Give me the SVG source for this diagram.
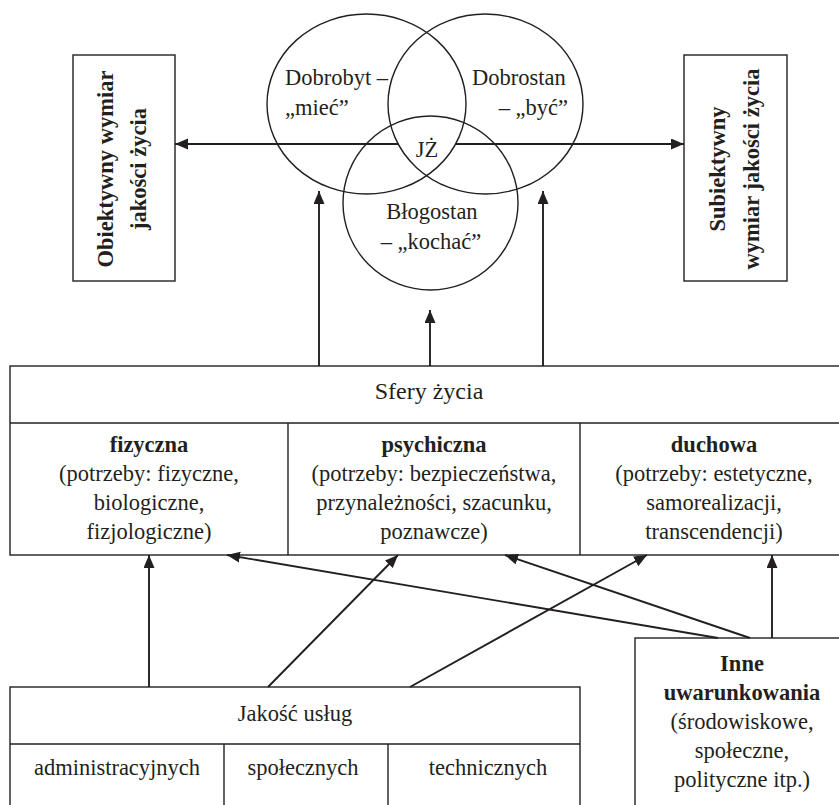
<svg xmlns="http://www.w3.org/2000/svg" width="839" height="805" viewBox="0 0 839 805" font-family="'Liberation Serif', 'DejaVu Serif', serif">
<style>
  text { font-family: 'Liberation Serif', 'Times New Roman', 'DejaVu Serif', serif; font-size: 22.5px; fill: #231f20; }
  .b { font-weight: bold; }
  .m { text-anchor: middle; }
  .e { text-anchor: end; }
  .box { fill: #fff; stroke: #231f20; stroke-width: 1.4; }
  .ln { fill: none; stroke: #231f20; stroke-width: 1.4; }
  .ell { fill: none; stroke: #231f20; stroke-width: 1.4; }
  .arr { fill: none; stroke: #231f20; stroke-width: 1.9; marker-end: url(#ah); }
  .seg { fill: none; stroke: #231f20; stroke-width: 1.9; marker-end: url(#ah); }
</style>
<defs>
  <marker id="ah" markerUnits="userSpaceOnUse" markerWidth="14" markerHeight="12" refX="13" refY="5.5" orient="auto">
    <path d="M0,0 L13,5.5 L0,11 z" fill="#231f20"/>
  </marker>
</defs>
<rect width="839" height="805" fill="#fff"/>

<g id="venn">
  <ellipse class="ell" cx="366.5" cy="104" rx="99.5" ry="90"/>
  <ellipse class="ell" cx="485.5" cy="104" rx="97.5" ry="90"/>
  <ellipse class="ell" cx="430.5" cy="203" rx="87.5" ry="87"/>
  <text x="285" y="85">Dobrobyt –</text>
  <text x="285" y="115">„mieć”</text>
  <text x="472" y="85">Dobrostan</text>
  <text class="e" x="568" y="115">– „być”</text>
  <text class="m" x="427" y="157">JŻ</text>
  <text class="m" x="432" y="219">Błogostan</text>
  <text class="m" x="431" y="249">– „kochać”</text>
</g>

<g id="obiektywny">
  <rect class="box" x="73" y="55" width="102" height="226"/>
  <g transform="translate(124,169) rotate(-90)">
    <text class="b m" x="0" y="-11">Obiektywny wymiar</text>
    <text class="b m" x="0" y="22">jakości życia</text>
  </g>
</g>

<g id="subiektywny">
  <rect class="box" x="684" y="55" width="103" height="226"/>
  <g transform="translate(735.5,169) rotate(-90)">
    <text class="b m" x="0" y="-11">Subiektywny</text>
    <text class="b m" x="0" y="23">wymiar jakości życia</text>
  </g>
</g>

<g id="sfery">
  <rect class="box" x="10" y="366" width="838" height="189"/>
  <line class="ln" x1="10" y1="423" x2="848" y2="423"/>
  <line class="ln" x1="288" y1="423" x2="288" y2="555"/>
  <line class="ln" x1="580" y1="423" x2="580" y2="555"/>
  <text class="m" x="429" y="399" style="font-size:24px">Sfery życia</text>
  <text class="b m" x="149" y="452">fizyczna</text>
  <text class="m" x="149" y="481">(potrzeby: fizyczne,</text>
  <text class="m" x="149" y="510">biologiczne,</text>
  <text class="m" x="149" y="539">fizjologiczne)</text>
  <text class="b m" x="434" y="452">psychiczna</text>
  <text class="m" x="434" y="481">(potrzeby: bezpieczeństwa,</text>
  <text class="m" x="434" y="510">przynależności, szacunku,</text>
  <text class="m" x="434" y="539">poznawcze)</text>
  <text class="b m" x="714" y="452">duchowa</text>
  <text class="m" x="714" y="481">(potrzeby: estetyczne,</text>
  <text class="m" x="714" y="510">samorealizacji,</text>
  <text class="m" x="714" y="539">transcendencji)</text>
</g>

<g id="jakosc">
  <rect class="box" x="10" y="687" width="570" height="130"/>
  <line class="ln" x1="10" y1="744" x2="580" y2="744"/>
  <line class="ln" x1="224" y1="744" x2="224" y2="817"/>
  <line class="ln" x1="388" y1="744" x2="388" y2="817"/>
  <text class="m" x="295" y="721">Jakość usług</text>
  <text class="m" x="117" y="775">administracyjnych</text>
  <text class="m" x="303" y="775">społecznych</text>
  <text class="m" x="488" y="775">technicznych</text>
</g>

<g id="inne">
  <rect class="box" x="635" y="638" width="214" height="180"/>
  <text class="b m" x="742" y="671">Inne</text>
  <text class="b m" x="742" y="700">uwarunkowania</text>
  <text class="m" x="742" y="729">(środowiskowe,</text>
  <text class="m" x="742" y="758">społeczne,</text>
  <text class="m" x="742" y="787">polityczne itp.)</text>
</g>

<g id="connectors">
  <line class="seg" x1="398" y1="144" x2="175" y2="144"/>
  <line class="seg" x1="456" y1="144" x2="684" y2="144"/>
  <line class="arr" x1="319" y1="366" x2="319" y2="191"/>
  <line class="arr" x1="543" y1="366" x2="543" y2="191"/>
  <line class="arr" x1="430" y1="366" x2="430" y2="310"/>
  <line class="arr" x1="149" y1="687" x2="149" y2="555"/>
  <line class="arr" x1="268" y1="687" x2="398" y2="555"/>
  <line class="arr" x1="410" y1="687" x2="647" y2="555"/>
  <line class="arr" x1="718" y1="638" x2="227" y2="555"/>
  <line class="arr" x1="750" y1="638" x2="505" y2="555"/>
  <line class="arr" x1="772" y1="638" x2="772" y2="555"/>
</g>
</svg>
